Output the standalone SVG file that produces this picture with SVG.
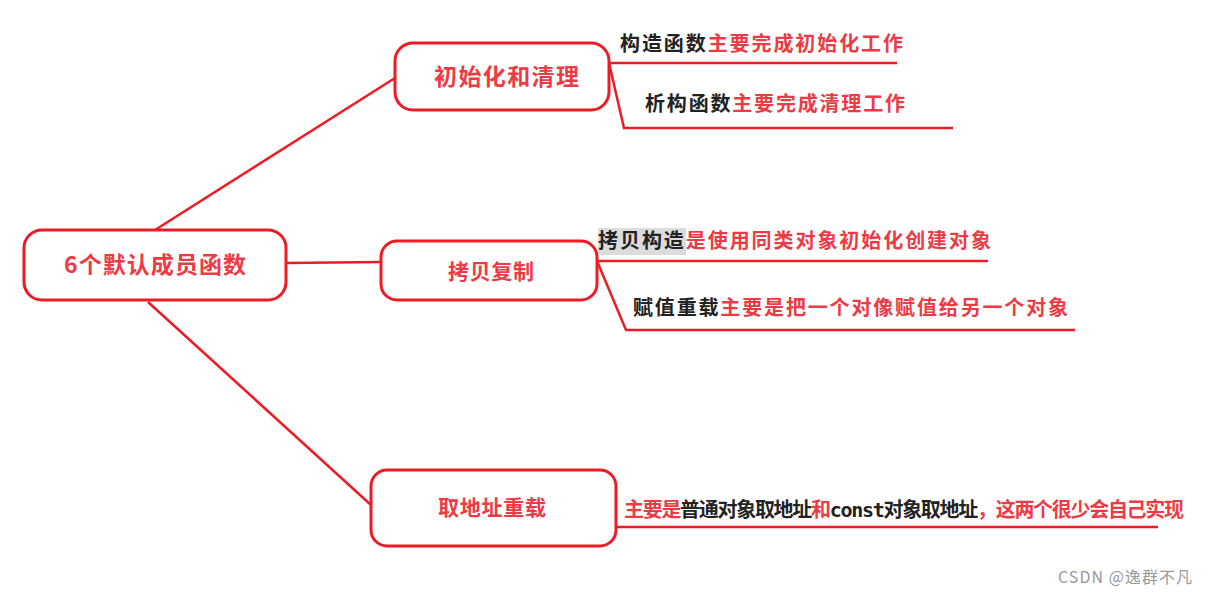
<svg xmlns="http://www.w3.org/2000/svg" width="1209" height="594" viewBox="0 0 1209 594">
<style>
.box{fill:#fff;stroke:#ed1c24;stroke-width:3}
.ln{fill:none;stroke:#ed1c24;stroke-width:2.5}
.nt{font-family:"Noto Sans CJK SC","Noto Sans",sans-serif;font-weight:bold;fill:#ee3a44}
.t{font-family:"Noto Sans CJK SC","Noto Sans",sans-serif;font-weight:bold;font-size:20px;fill:#222}
.r{fill:#ee3a44}
.mono{font-family:"DejaVu Sans Mono",monospace}
</style>
<rect width="1209" height="594" fill="#fff"/>
<g id="connectors">
<line class="ln" x1="155" y1="230" x2="395" y2="78"/>
<line class="ln" x1="286" y1="263" x2="381" y2="262"/>
<line class="ln" x1="148" y1="302" x2="371" y2="505"/>
<polyline class="ln" points="609,63 897,63"/>
<polyline class="ln" points="609,63 624,128 953,128"/>
<polyline class="ln" points="597,261 988,261"/>
<polyline class="ln" points="597,261 626,330 1075,330"/>
<polyline class="ln" points="616,527 1158,527"/>
</g>
<g id="root">
<rect class="box" x="24" y="230" width="262" height="70" rx="18"/>
<text class="nt" x="64" y="273" font-size="23" textLength="182" lengthAdjust="spacing">6个默认成员函数</text>
</g>
<g id="init">
<rect class="box" x="395" y="43" width="214" height="67" rx="18"/>
<text class="nt" x="434" y="85" font-size="23" textLength="145" lengthAdjust="spacing">初始化和清理</text>
<text class="t" x="620" y="51" textLength="283" lengthAdjust="spacing">构造函数<tspan class="r">主要完成初始化工作</tspan></text>
<text class="t" x="645" y="111" textLength="260" lengthAdjust="spacing">析构函数<tspan class="r">主要完成清理工作</tspan></text>
</g>
<g id="copy">
<rect class="box" x="381" y="241" width="216" height="59" rx="16"/>
<text class="nt" x="448" y="279" font-size="21" textLength="86" lengthAdjust="spacing">拷贝复制</text>
<rect x="598" y="228" width="88" height="27" fill="#dcdcdc"/>
<text class="t" x="598" y="248" textLength="393" lengthAdjust="spacing">拷贝构造<tspan class="r">是使用同类对象初始化创建对象</tspan></text>
<text class="t" x="633" y="315" textLength="435" lengthAdjust="spacing">赋值重载<tspan class="r">主要是把一个对像赋值给另一个对象</tspan></text>
</g>
<g id="addr">
<rect class="box" x="371" y="470" width="245" height="76" rx="16"/>
<text class="nt" x="438" y="515" font-size="21" textLength="108" lengthAdjust="spacing">取地址重载</text>
<text class="t" x="624" y="517" font-size="17" textLength="560" lengthAdjust="spacing"><tspan class="r">主要是</tspan>普通对象取地址<tspan class="r">和</tspan><tspan class="mono">const</tspan>对象取地址<tspan class="r">，这两个很少会自己实现</tspan></text>
</g>
<text x="1058" y="583" font-family="'Noto Sans CJK SC','Noto Sans',sans-serif" font-size="16" fill="#999" textLength="134" lengthAdjust="spacing">CSDN @逸群不凡</text>
</svg>
